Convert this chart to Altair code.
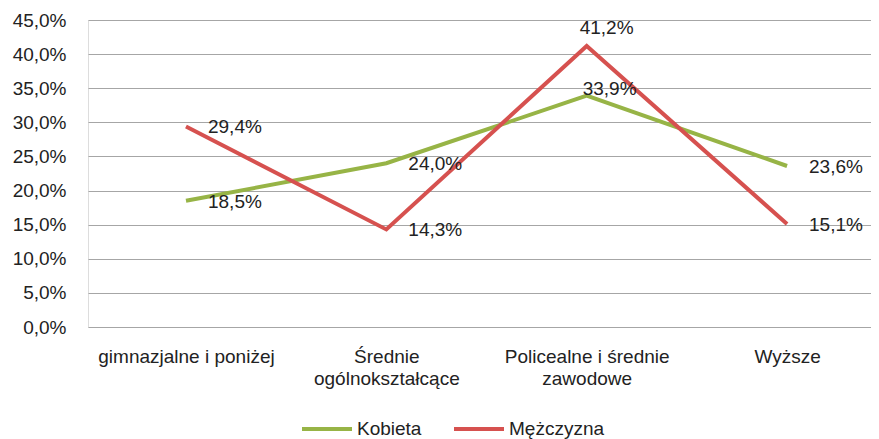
import altair as alt
import pandas as pd

categories = ["gimnazjalne i poniżej", "Średnie ogólnokształcące", "Policealne i średnie zawodowe", "Wyższe"]
kobieta = [18.5, 24.0, 33.9, 23.6]
mezczyzna = [29.4, 14.3, 41.2, 15.1]
series = ["Kobieta", "Mężczyzna"]
colors = ["#97B446", "#D6514F"]
y_ticks = [0, 5, 10, 15, 20, 25, 30, 35, 40, 45]

rows = []
for s, vals in zip(series, [kobieta, mezczyzna]):
    for i, (c, v) in enumerate(zip(categories, vals)):
        rows.append({"idx": i, "kat": c, "seria": s, "wartosc": v})
df = pd.DataFrame(rows)

FONT = "Liberation Sans"
FS = 19
TXT = "#222222"

label_map = (
    "datum.value == 0 ? 'gimnazjalne i poniżej' : "
    "datum.value == 1 ? ['Średnie', 'ogólnokształcące'] : "
    "datum.value == 2 ? ['Policealne i średnie', 'zawodowe'] : 'Wyższe'"
)

x_enc = alt.X(
    "idx:Q",
    scale=alt.Scale(domain=[-0.489, 3.419], nice=False, zero=False),
    axis=alt.Axis(
        title=None,
        values=[0, 1, 2, 3],
        labelAngle=0,
        ticks=False,
        domain=False,
        grid=False,
        labelFont=FONT,
        labelFontSize=FS,
        labelColor=TXT,
        labelPadding=20,
        labelLineHeight=22,
        labelFlush=False,
        labelOverlap=False,
        labelExpr=label_map,
    ),
)
y_enc = alt.Y(
    "wartosc:Q",
    scale=alt.Scale(domain=[0, 45], nice=False),
    axis=alt.Axis(
        title=None,
        values=y_ticks,
        ticks=False,
        domain=False,
        gridColor="#A6A6A6",
        gridWidth=1.2,
        labelFont=FONT,
        labelFontSize=FS,
        labelColor=TXT,
        labelPadding=22,
        labelExpr="replace(format(datum.value, '.1f'), '.', ',') + '%'",
    ),
)
color_enc = alt.Color(
    "seria:N",
    sort=series,
    scale=alt.Scale(domain=series, range=colors),
    legend=alt.Legend(
        title=None,
        orient="none",
        direction="horizontal",
        legendX=212,
        legendY=382,
        symbolType="stroke",
        symbolSize=2500,
        symbolStrokeWidth=4,
        labelFont=FONT,
        labelFontSize=FS,
        labelColor=TXT,
        labelOffset=3,
        columnPadding=24,
    ),
)

base = alt.Chart(df)

lines = base.mark_line(strokeWidth=4).encode(x=x_enc, y=y_enc, color=color_enc, detail="seria:N")

fmt = "replace(format(datum.wartosc, '.1f'), '.', ',') + '%'"

labels_side = base.transform_filter(
    alt.datum.idx != 2
).transform_calculate(t=fmt).mark_text(
    align="left", baseline="middle", font=FONT, fontSize=FS, color=TXT, dx=22, dy=1
).encode(x=x_enc, y=y_enc, text="t:N")

labels_k = base.transform_filter(
    (alt.datum.idx == 2) & (alt.datum.seria == "Kobieta")
).transform_calculate(t=fmt).mark_text(
    align="left", baseline="middle", font=FONT, fontSize=FS, color=TXT, dx=-4, dy=-7
).encode(x=x_enc, y=y_enc, text="t:N")

labels_m = base.transform_filter(
    (alt.datum.idx == 2) & (alt.datum.seria == "Mężczyzna")
).transform_calculate(t=fmt).mark_text(
    align="left", baseline="middle", font=FONT, fontSize=FS, color=TXT, dx=-7, dy=-18
).encode(x=x_enc, y=y_enc, text="t:N")

chart = alt.layer(lines, labels_side, labels_k, labels_m).properties(
    width=783,
    height=307,
    autosize=alt.AutoSizeParams(type="none"),
    padding={"left": 80, "top": 12, "right": 0, "bottom": 118},
).configure_view(stroke=None).configure(background="white")

chart.save("out.html", embed_options={"renderer": "svg", "actions": False})
